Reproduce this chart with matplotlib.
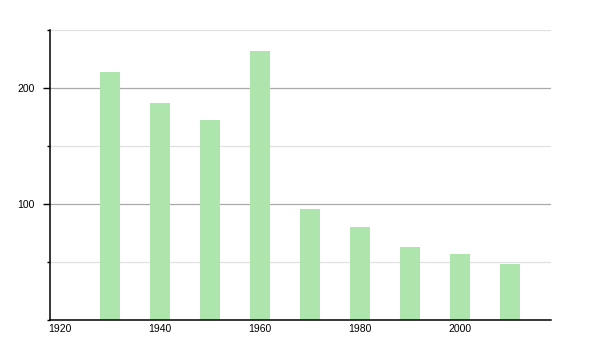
import matplotlib
matplotlib.use("Agg")
import matplotlib.pyplot as plt
from matplotlib.ticker import MultipleLocator

years = [1930, 1940, 1950, 1960, 1970, 1980, 1990, 2000, 2010]
values = [214, 187, 172, 232, 96, 80, 63, 57, 48]
x_ticks = [1920, 1940, 1960, 1980, 2000]
y_ticks = [100, 200]

plt.rcParams['font.family'] = ['Liberation Sans', 'DejaVu Sans']

fig = plt.figure(figsize=(6, 3.5), dpi=100)
ax = fig.add_axes([50 / 600, 30 / 350, 501 / 600, 290 / 350])

ax.bar(years, values, width=4, color="#aee5ad", zorder=2)

ax.set_xlim(1918, 2018.2)
ax.set_ylim(0, 250)

ax.set_yticks(y_ticks)
ax.yaxis.set_minor_locator(MultipleLocator(50))
ax.set_xticks(x_ticks)
ax.set_xticklabels([str(t) for t in x_ticks])

# dark lines at labelled values, faint ones in between
ax.grid(axis='y', which='major', color="#aaaaaa", linewidth=0.9, zorder=1)
ax.grid(axis='y', which='minor', color="#e0e0e0", linewidth=0.9, zorder=1)

for side in ["top", "right"]:
    ax.spines[side].set_visible(False)
ax.spines["left"].set_linewidth(1.1)
ax.spines["bottom"].set_linewidth(1.1)

ax.tick_params(axis='y', which='major', length=5, width=1, labelsize=7.5, pad=6)
ax.tick_params(axis='y', which='minor', length=2.5, width=1)
ax.tick_params(axis='x', length=0, labelsize=7.5, pad=3)

plt.savefig("out.png", dpi=100)
